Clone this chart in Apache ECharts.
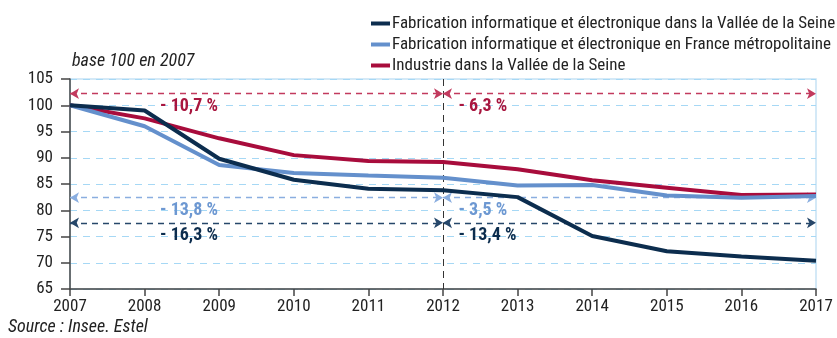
<!DOCTYPE html>
<html>
<head>
<meta charset="utf-8">
<script src="https://cdn.jsdelivr.net/npm/echarts@6/dist/echarts.min.js"></script>
<style>
  html, body { margin: 0; padding: 0; background: #fff; }
  #chart { width: 837px; height: 338px; }
</style>
</head>
<body>
<div id="chart"></div>
<script>
// Années et indices (base 100 en 2007)
const years = [2007, 2008, 2009, 2010, 2011, 2012, 2013, 2014, 2015, 2016, 2017];
const fabValleeSeine = [100, 99.0, 89.8, 85.8, 84.1, 83.8, 82.5, 75.1, 72.2, 71.2, 70.4];
const fabFrance = [100, 96.0, 88.6, 87.1, 86.6, 86.2, 84.7, 84.8, 82.8, 82.4, 82.7];
const industrieValleeSeine = [100, 97.5, 93.7, 90.5, 89.4, 89.2, 87.8, 85.7, 84.3, 82.9, 83.0];

const seriesNames = [
  'Fabrication informatique et électronique dans la Vallée de la Seine',
  'Fabrication informatique et électronique en France métropolitaine',
  'Industrie dans la Vallée de la Seine'
];

// Évolutions 2007-2012 et 2012-2017, et niveau des flèches de cote
const evolAvant = ['- 16,3 %', '- 13,8 %', '- 10,7 %'];
const evolApres = ['- 13,4 %', '- 3,5 %', '- 6,3 %'];
const niveauFleche = [77.6, 82.4, 102.2];
const anneeDebut = 2007, anneeCoupure = 2012, anneeFin = 2017;

const yTicks = { min: 65, max: 105, interval: 5 };

const lineColors = ['#0c2d4e', '#6490cc', '#a80c3c'];
const arrowColors = ['#26476a', '#8aaee0', '#c23a5e'];
const labelColors = ['#0c2d4e', '#6d98d2', '#a8163f'];

const FONT = '"Roboto Condensed", "DejaVu Sans Condensed", "Liberation Sans", sans-serif';

const chart = echarts.init(document.getElementById('chart'), null, { renderer: 'canvas' });

const dataSets = [fabValleeSeine, fabFrance, industrieValleeSeine];

const series = dataSets.map((vals, i) => {
  const lvl = niveauFleche[i];
  return {
    name: seriesNames[i],
    type: 'line',
    data: years.map((y, k) => [y, vals[k]]),
    symbol: 'none',
    lineStyle: { width: 4, color: lineColors[i] },
    itemStyle: { color: lineColors[i] },
    z: 5 + (2 - i),
    markLine: {
      silent: true,
      symbol: ['arrow', 'arrow'],
      symbolSize: [8, 9],
      lineStyle: { type: [6, 5], width: 1.3, color: arrowColors[i] },
      itemStyle: { color: arrowColors[i] },
      label: { show: false },
      data: [
        [{ coord: [anneeDebut, lvl] }, { coord: [anneeCoupure, lvl] }],
        [{ coord: [anneeCoupure, lvl] }, { coord: [anneeFin, lvl] }]
      ]
    },
    markPoint: {
      silent: true,
      symbol: 'circle',
      symbolSize: 1,
      itemStyle: { color: 'rgba(0,0,0,0)' },
      label: {
        show: true,
        position: 'right',
        distance: 0,
        offset: [0, 13],
        fontFamily: FONT,
        fontWeight: 'bold',
        fontSize: 18,
        color: labelColors[i],
        formatter: p => p.name
      },
      data: [
        { name: evolAvant[i], coord: [2008.2, lvl] },
        { name: evolApres[i], coord: [2012.2, lvl] }
      ]
    }
  };
});

// Coupure verticale en 2012
series[0].markLine.data.push([
  { coord: [anneeCoupure, yTicks.max], symbol: 'none' },
  { coord: [anneeCoupure, yTicks.min], symbol: 'none', lineStyle: { color: '#333', type: [7, 5], width: 1 } }
]);

const option = {
  animation: false,
  backgroundColor: '#fff',
  grid: {
    left: 70, right: 21, top: 79, bottom: 49,
    show: true, borderColor: '#c6e2f5', borderWidth: 1.5,
    containLabel: false
  },
  legend: {
    orient: 'vertical',
    left: 366, top: 10,
    itemWidth: 19, itemHeight: 4,
    itemGap: 4,
    icon: 'rect',
    textStyle: { fontFamily: FONT, fontSize: 17, color: '#222', padding: [0, 0, 0, -3] },
    data: seriesNames
  },
  xAxis: {
    type: 'value',
    min: anneeDebut, max: anneeFin, interval: 1,
    axisLine: { lineStyle: { color: '#444', width: 1.5 } },
    axisTick: { show: true, length: 7, lineStyle: { color: '#444', width: 1.5 } },
    axisLabel: { fontFamily: FONT, fontSize: 17, color: '#222', margin: 9, formatter: v => String(v) },
    splitLine: { show: false }
  },
  yAxis: {
    type: 'value',
    min: yTicks.min, max: yTicks.max, interval: yTicks.interval,
    axisLine: { show: true, lineStyle: { color: '#444', width: 1.5 } },
    axisTick: { show: true, length: 9, lineStyle: { color: '#444', width: 1.5 } },
    axisLabel: { fontFamily: FONT, fontSize: 17, color: '#222', margin: 17 },
    splitLine: { show: true, lineStyle: { color: '#a6d8f5', type: [7, 6], width: 1 } }
  },
  graphic: [
    { type: 'text', left: 72, top: 52, style: { text: 'base 100 en 2007', fontFamily: FONT, fontStyle: 'italic', fontSize: 18, fill: '#222' } },
    { type: 'text', left: 8, top: 318, style: { text: 'Source : Insee. Estel', fontFamily: FONT, fontStyle: 'italic', fontSize: 18, fill: '#222' } }
  ],
  series: series
};

chart.setOption(option);
</script>
</body>
</html>
